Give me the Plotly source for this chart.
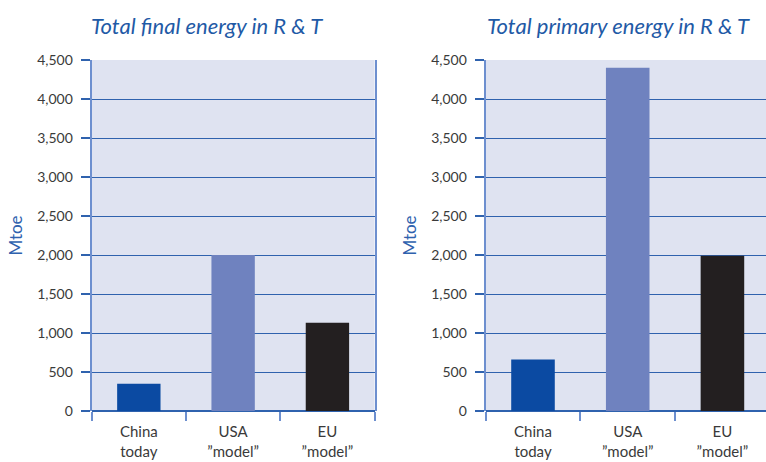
import plotly.graph_objects as go
from plotly.subplots import make_subplots

categories = ["China<br>today", "USA<br>\u201dmodel\u201d", "EU<br>\u201dmodel\u201d"]
final_energy = [350, 2000, 1130]
primary_energy = [660, 4400, 1990]
bar_colors = ["#0b4aa2", "#6f82bf", "#231f20"]
y_ticks = [0, 500, 1000, 1500, 2000, 2500, 3000, 3500, 4000, 4500]
y_ticktext = ["0", "500", "1,000", "1,500", "2,000", "2,500", "3,000", "3,500", "4,000", "4,500"]
titles = ["Total final energy in R &amp; T", "Total primary energy in R &amp; T"]

fig = make_subplots(rows=1, cols=2)

fig.add_trace(go.Bar(x=categories, y=final_energy, marker=dict(color=bar_colors, line=dict(width=0)),
                     showlegend=False), row=1, col=1)
fig.add_trace(go.Bar(x=categories, y=primary_energy, marker=dict(color=bar_colors, line=dict(width=0)),
                     showlegend=False), row=1, col=2)

grid_col = "#2f62ae"
line_col = "#6d8fcf"
tick_font = dict(family="Lato, sans-serif", size=14, color="#3a3a3a")
xtick_font = dict(family="Lato, sans-serif", size=15, color="#3a3a3a")

common_x = dict(type="category", showgrid=False, showline=False, ticks="outside",
                tickson="boundaries", ticklen=9, tickwidth=2, tickcolor=line_col,
                tickfont=xtick_font, zeroline=False, ticklabelstandoff=10)
fig.update_xaxes(common_x)
fig.update_xaxes(domain=[0.1197, 0.489], range=[-0.5, 2.5], row=1, col=1)
fig.update_xaxes(domain=[0.634, 1.0], range=[-0.5, 2.46], row=1, col=2)

common_y = dict(range=[0, 4500], tickvals=y_ticks, ticktext=y_ticktext, showgrid=True,
                gridcolor=grid_col, gridwidth=1.2, showline=True, linecolor=line_col,
                linewidth=2, ticks="outside", ticklen=9, tickwidth=1.5, tickcolor=grid_col,
                tickfont=tick_font, zeroline=True, zerolinecolor=grid_col, zerolinewidth=1.5,
                ticklabelstandoff=5,
                title=dict(text="Mtoe", font=dict(family="Lato, sans-serif", size=17, color="#2f62ae"),
                           standoff=10))
fig.update_yaxes(common_y)
fig.update_yaxes(mirror=True, row=1, col=1)

fig.update_layout(
    width=766, height=462,
    margin=dict(l=0, r=0, t=60, b=51),
    plot_bgcolor="#dfe3f1", paper_bgcolor="white",
    bargap=0.54,
    font=dict(family="Lato, sans-serif"),
)

title_font = dict(family="Lato, sans-serif", size=22, color="#1f5aa6")
fig.add_annotation(text="<i>" + titles[0] + "</i>", xref="paper", yref="paper",
                   x=0.27, y=1.0, yshift=35, showarrow=False, font=title_font,
                   xanchor="center", yanchor="middle")
fig.add_annotation(text="<i>" + titles[1] + "</i>", xref="paper", yref="paper",
                   x=0.807, y=1.0, yshift=35, showarrow=False, font=title_font,
                   xanchor="center", yanchor="middle")

fig.write_html("out.html")
